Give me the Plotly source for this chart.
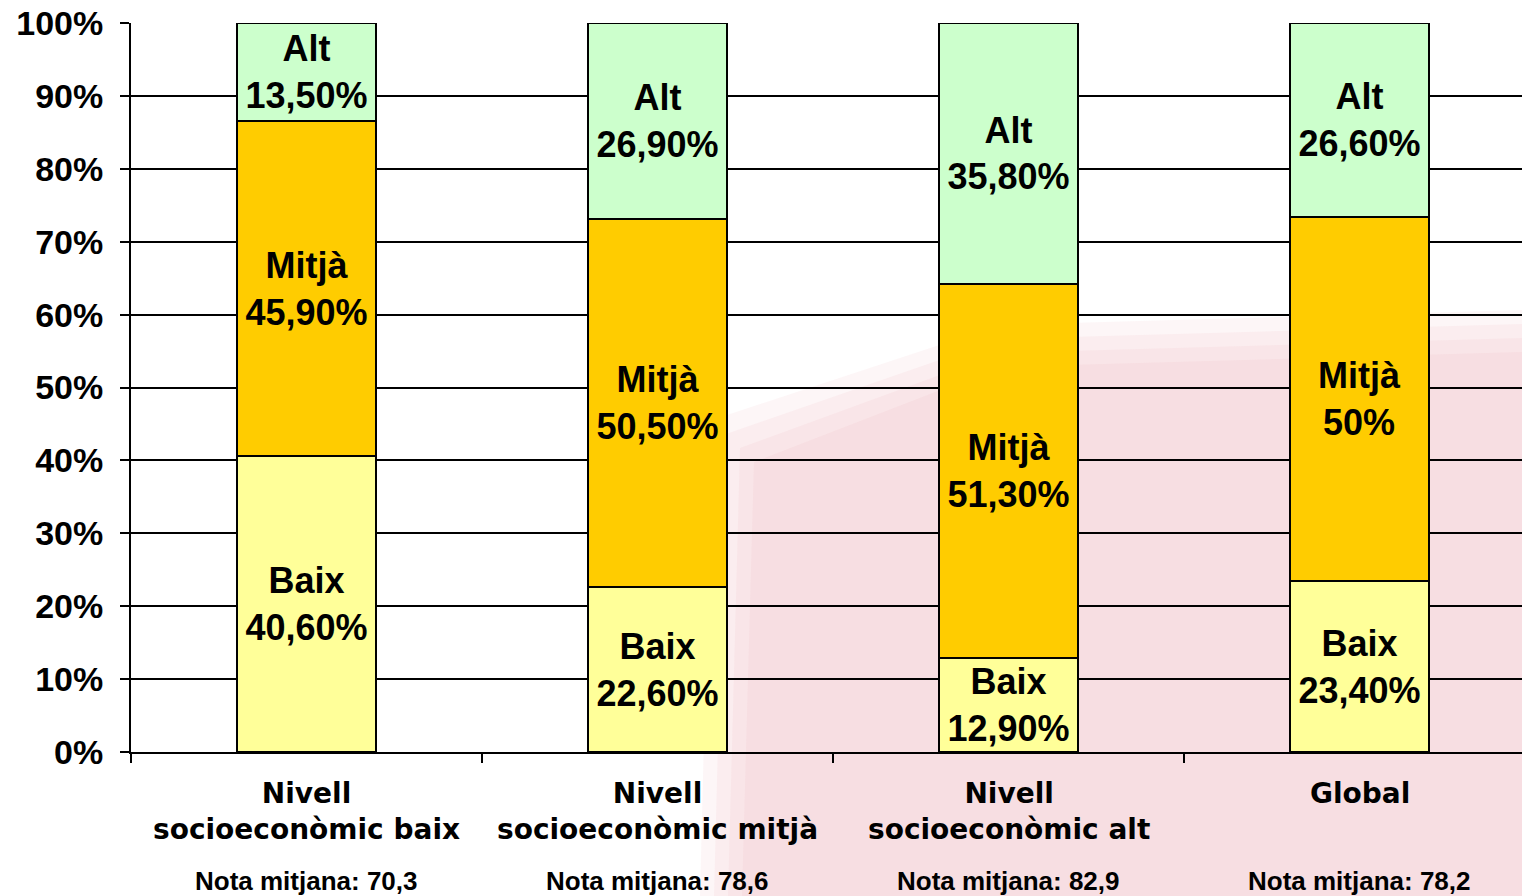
import plotly.graph_objects as go

# ---- data ----
categories = ["Nivell socioeconòmic baix", "Nivell socioeconòmic mitjà",
              "Nivell socioeconòmic alt", "Global"]
cat_line1 = ["Nivell", "Nivell", "Nivell", "Global"]
cat_line2 = ["socioeconòmic baix", "socioeconòmic mitjà", "socioeconòmic alt", ""]
nota_mitjana = ["70,3", "78,6", "82,9", "78,2"]

series_names = ["Baix", "Mitjà", "Alt"]
baix = [40.6, 22.6, 12.9, 23.4]
mitja = [45.9, 50.5, 51.3, 50.0]
alt = [13.5, 26.9, 35.8, 26.6]
series_values = [baix, mitja, alt]
series_colors = ["#FFFF99", "#FFCC00", "#CCFFCC"]
y_ticks = [0, 10, 20, 30, 40, 50, 60, 70, 80, 90, 100]


def fmt(v):
    if float(v).is_integer():
        return f"{int(v)}%"
    return f"{v:.2f}".replace(".", ",") + "%"


fig = go.Figure()
for name, vals, col in zip(series_names, series_values, series_colors):
    fig.add_trace(go.Bar(
        x=categories, y=vals, name=name,
        marker=dict(color=col, line=dict(color="#000000", width=2)),
        width=0.395,
        text=[f"{name}<br>{fmt(v)}" for v in vals],
        textposition="inside", insidetextanchor="middle", textangle=0,
        textfont=dict(family="Liberation Sans, Arial, sans-serif", size=36,
                      color="#000000", weight="bold"),
        hoverinfo="skip",
    ))

# plot area in pixels: left 131, top 23, bottom 752, right 1522
W, H = 1522, 896
L, T, B = 131, 23, 752
cat_w = 351.0
x_max = -0.5 + (W - L) / cat_w


def py(p):
    return (B - p) / (B - T)


def px(p):
    return (p - L) / (W - L)


annotations = []
for i, c in enumerate(categories):
    if cat_line2[i]:
        txt = cat_line1[i] + "<br>" + cat_line2[i]
        yc = (793 + 830) / 2
    else:
        txt = cat_line1[i]
        yc = 793
    annotations.append(dict(
        x=c, xref="x", y=py(yc), yref="paper", text=txt, showarrow=False,
        xanchor="center", yanchor="middle", align="center",
        font=dict(family="DejaVu Sans, Verdana, sans-serif", size=28,
                  color="#000000", weight="bold"),
    ))
    annotations.append(dict(
        x=c, xref="x", y=py(881), yref="paper",
        text=f"Nota mitjana: {nota_mitjana[i]}", showarrow=False,
        xanchor="center", yanchor="middle",
        font=dict(family="Liberation Sans, Arial, sans-serif",
                  size=26, color="#000000", weight="bold"),
    ))

# faint, soft-edged watermark in background (stacked translucent layers)
shapes = []
for d in [0, 14, 28, 42]:
    shapes.append(dict(
        type="path", xref="paper", yref="paper", layer="below",
        path=(f"M {px(700 + d)},{py(896)} L {px(712 + d)},{py(420 + d)} "
              f"L {px(1000)},{py(325 + d)} L {px(1522)},{py(310 + d)} "
              f"L {px(1522)},{py(896)} Z"),
        fillcolor="rgba(236,150,165,0.085)", line=dict(width=0)))

fig.update_layout(
    barmode="stack",
    width=W, height=H,
    margin=dict(l=L, r=0, t=T, b=H - B, pad=0),
    paper_bgcolor="#FFFFFF",
    plot_bgcolor="rgba(0,0,0,0)",
    showlegend=False,
    uniformtext=dict(minsize=35, mode="show"),
    annotations=annotations,
    shapes=shapes,
    xaxis=dict(
        type="category", range=[-0.5, x_max],
        showticklabels=False, showgrid=False,
        showline=True, linecolor="#000000", linewidth=2,
        ticks="outside", tickson="boundaries", ticklen=9, tickwidth=2,
        tickcolor="#000000", zeroline=False,
    ),
    yaxis=dict(
        range=[0, 100], tickvals=y_ticks,
        ticktext=[f"{v}%" for v in y_ticks],
        showgrid=True, gridcolor="#000000", gridwidth=2,
        showline=True, linecolor="#000000", linewidth=2,
        ticks="outside", ticklen=9, tickwidth=2, tickcolor="#000000",
        ticklabelstandoff=10, zeroline=False,
        tickfont=dict(family="Liberation Sans, Arial, sans-serif", size=34,
                      color="#000000", weight="bold"),
    ),
)

fig.write_html("out.html", config={"displayModeBar": False},
               post_script="document.body.style.margin='0px';document.body.style.overflow='hidden';")
